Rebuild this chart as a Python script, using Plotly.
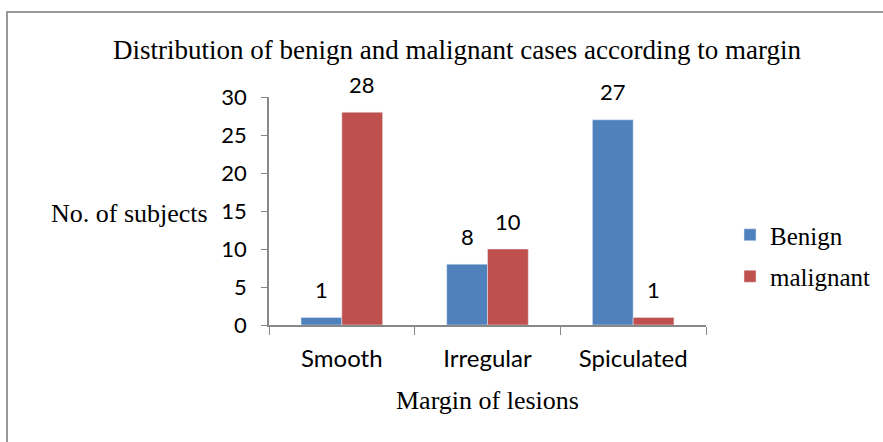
import plotly.graph_objects as go

categories = ["Smooth", "Irregular", "Spiculated"]
benign = [1, 8, 27]
malignant = [28, 10, 1]
y_ticks = [0, 5, 10, 15, 20, 25, 30]

W, H = 883, 442
L, R, T, B = 269, 706, 97, 325
pw, ph = R - L, B - T

SANS = "Lato"
SERIF = "Liberation Serif"
BARW = 41  # px width of one bar

fig = go.Figure()
fig.add_trace(go.Bar(x=categories, y=benign, name="Benign", marker_color="#4F81BD",
                     legendgroup="a"))
fig.add_trace(go.Bar(x=categories, y=malignant, name="malignant", marker_color="#C0504D",
                     legendgroup="b"))

for vals, shift in ((benign, -BARW / 2), (malignant, BARW / 2)):
    for c, v in zip(categories, vals):
        fig.add_annotation(x=c, y=v, xref="x", yref="y", text=str(v), showarrow=False,
                           xshift=shift, yshift=28, yanchor="middle",
                           font=dict(family=SANS, size=22, color="#000"))

fig.update_layout(
    width=W, height=H,
    margin=dict(l=L, r=W - R, t=T, b=H - B, autoexpand=False),
    paper_bgcolor="white", plot_bgcolor="white",
    barmode="group", bargap=0.44, bargroupgap=0,
    title=dict(text="Distribution of benign and malignant cases according to margin",
               x=457 / W, xanchor="center", y=1 - 50 / H, yanchor="middle",
               font=dict(family=SERIF, size=27, color="#000")),
    legend=dict(x=(730 - L) / pw, y=(325 - 212) / ph, xanchor="left", yanchor="top",
                font=dict(family=SERIF, size=25, color="#000"),
                tracegroupgap=6, traceorder="grouped", bgcolor="rgba(0,0,0,0)"),
    showlegend=True,
)
fig.update_xaxes(showline=True, linecolor="#888", linewidth=1.5, ticks="outside",
                 tickson="boundaries", ticklen=8, tickcolor="#888", ticklabelstandoff=11,
                 tickfont=dict(family=SANS, size=24, color="#000"), showgrid=False)
fig.update_yaxes(range=[0, 30], tickvals=y_ticks, showline=True, linecolor="#888", linewidth=1.5,
                 ticks="outside", ticklen=6, tickcolor="#888", showgrid=False, zeroline=False,
                 ticklabelstandoff=10,
                 tickfont=dict(family=SANS, size=22, color="#000"))

fig.add_annotation(text="No. of subjects", xref="paper", yref="paper",
                   x=(210 - L) / pw, y=(325 - 213) / ph, xanchor="right", yanchor="middle",
                   showarrow=False, font=dict(family=SERIF, size=26, color="#000"))
fig.add_annotation(text="Margin of lesions", xref="paper", yref="paper",
                   x=(487 - L) / pw, y=(325 - 400) / ph, xanchor="center", yanchor="middle",
                   showarrow=False, font=dict(family=SERIF, size=26, color="#000"))
fig.add_shape(type="rect", xref="paper", yref="paper",
              x0=(7 - L) / pw, x1=(900 - L) / pw, y0=(325 - 460) / ph, y1=(325 - 12) / ph,
              line=dict(color="#999", width=2), fillcolor="rgba(0,0,0,0)", layer="below")

fig.write_html("out.html", config={"displayModeBar": False},
               post_script="document.body.style.margin='0';document.body.style.overflow='hidden';")
